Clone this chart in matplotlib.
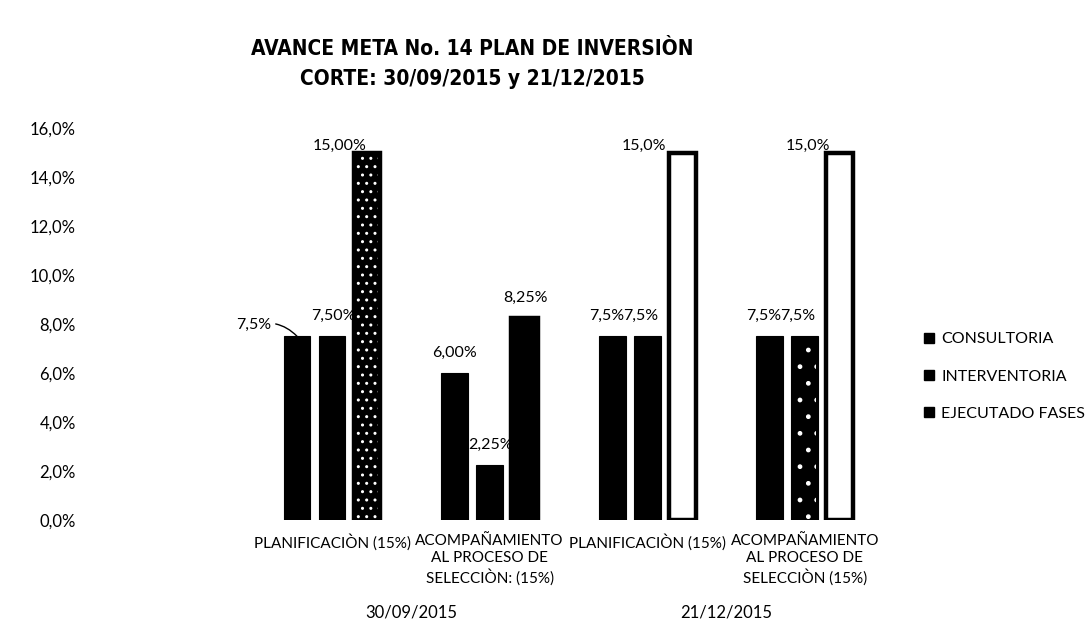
import matplotlib
matplotlib.use("Agg")
import matplotlib.pyplot as plt
from matplotlib import font_manager
from matplotlib.font_manager import FontProperties
from matplotlib.patches import Rectangle
import numpy as np

# ---------------- data ----------------
categories = ["PLANIFICACIÒN (15%)",
              "ACOMPAÑAMIENTO\nAL PROCESO DE\nSELECCIÒN: (15%)",
              "PLANIFICACIÒN (15%)",
              "ACOMPAÑAMIENTO\nAL PROCESO DE\nSELECCIÒN (15%)"]
dates = ["30/09/2015", "21/12/2015"]
series_names = ["CONSULTORIA", "INTERVENTORIA", "EJECUTADO FASES"]
consultoria = [7.5, 6.0, 7.5, 7.5]
interventoria = [7.5, 2.25, 7.5, 7.5]
ejecutado = [15.0, 8.25, 15.0, 15.0]
labels_consultoria = ["7,5%", "6,00%", "7,5%", "7,5%"]
labels_interventoria = ["7,50%", "2,25%", "7,5%", "7,5%"]
labels_ejecutado = ["15,00%", "8,25%", "15,0%", "15,0%"]
yticks = [0, 2, 4, 6, 8, 10, 12, 14, 16]
ytick_labels = ["0,0%", "2,0%", "4,0%", "6,0%", "8,0%", "10,0%", "12,0%", "14,0%", "16,0%"]
title = "AVANCE META No. 14 PLAN DE INVERSIÒN\nCORTE: 30/09/2015 y 21/12/2015"

# ---------------- fonts ----------------
avail = {f.name for f in font_manager.fontManager.ttflist}
body_font = "Lato" if "Lato" in avail else "DejaVu Sans"

title_fp = None
for f in font_manager.fontManager.ttflist:
    fn = f.fname.lower()
    if ("narrow" in fn or "condensed" in fn) and ("bold" in fn) and ("italic" not in fn and "oblique" not in fn):
        if "liberation" in fn:
            title_fp = FontProperties(fname=f.fname, size=18)
            break
        if title_fp is None:
            title_fp = FontProperties(fname=f.fname, size=15)
if title_fp is None:
    title_fp = FontProperties(family="Liberation Sans", weight="bold", size=14.5)

W, H = 1092, 632
fig = plt.figure(figsize=(W / 100, H / 100), dpi=100)
fig.patch.set_facecolor("white")

ax_left_px, ax_right_px = 90, 884
ax_top_px, ax_bot_px = 128, 520
ax = fig.add_axes([ax_left_px / W, 1 - ax_bot_px / H,
                   (ax_right_px - ax_left_px) / W, (ax_bot_px - ax_top_px) / H])

spacing_px = 157.6
x0_px = 332
xl = -(x0_px - ax_left_px) / spacing_px
xr = 3 + (ax_right_px - (x0_px + 3 * spacing_px)) / spacing_px
ax.set_xlim(xl, xr)
ax.set_ylim(0, 16)

x = np.arange(len(categories))
w = 0.171
pitch = 0.222

b1 = ax.bar(x - pitch, consultoria, w, color="black", edgecolor="black", linewidth=0.8)
b2 = ax.bar(x, interventoria, w, color="black", edgecolor="black", linewidth=0.8)
fill3 = ["black", "black", "white", "white"]
b3 = ax.bar(x + pitch, ejecutado, w, color=fill3, edgecolor="black", linewidth=3.2)
# speckled look of scanned bars
ax.bar([x[0] + pitch], [ejecutado[0]], w * 0.8, fill=False, edgecolor="white",
       hatch="..", linewidth=0)
ax.bar([x[3]], [interventoria[3]], w * 0.8, fill=False, edgecolor="white",
       hatch=".", linewidth=0)

PX = 0.72  # points per pixel
lab_kw = dict(fontsize=11.5, family=body_font, color="black", textcoords="offset points")

# consultoria labels
for i, (r, t) in enumerate(zip(b1, labels_consultoria)):
    cx = r.get_x() + r.get_width() / 2
    top = r.get_height()
    if i == 0:
        ax.annotate(t, xy=(cx, top), xytext=(-43 * PX, 11 * PX), ha="center", va="center",
                    arrowprops=dict(arrowstyle="-", color="black", lw=1,
                                    shrinkA=1, shrinkB=0,
                                    connectionstyle="arc3,rad=-0.3"), **lab_kw)
    else:
        dx = 0 if i == 1 else -6
        ax.annotate(t, xy=(cx, top), xytext=(dx * PX, 20 * PX), ha="center", va="center", **lab_kw)
# interventoria labels
for i, (r, t) in enumerate(zip(b2, labels_interventoria)):
    cx = r.get_x() + r.get_width() / 2
    top = r.get_height()
    dx = 1 if i < 2 else -7
    ax.annotate(t, xy=(cx, top), xytext=(dx * PX, 20 * PX), ha="center", va="center", **lab_kw)
# ejecutado labels
right_off = [0, 0, -16, -10]
for i, (r, t) in enumerate(zip(b3, labels_ejecutado)):
    cx = r.get_x() + r.get_width() / 2
    top = r.get_height()
    if top >= 14:
        ax.annotate(t, xy=(cx, top), xytext=(right_off[i] * PX, 7 * PX), ha="right", va="center", **lab_kw)
    else:
        ax.annotate(t, xy=(cx, top), xytext=(1 * PX, 20 * PX), ha="center", va="center", **lab_kw)

# axes styling
for s in ax.spines.values():
    s.set_visible(False)
ax.set_yticks(yticks)
ax.set_yticklabels(ytick_labels, family=body_font, fontsize=12)
ax.tick_params(axis="y", length=0, pad=14 * PX)
ax.set_xticks(x)
ax.set_xticklabels(categories, family=body_font, fontsize=11, linespacing=1.3, va="top")
ax.tick_params(axis="x", length=0, pad=14 * PX)

# date group labels
for k, d in enumerate(dates):
    cx = (x[2 * k] + x[2 * k + 1]) / 2
    ax.annotate(d, xy=(cx, 0), xycoords=("data", "axes fraction"),
                xytext=(0, -93 * PX), textcoords="offset points",
                ha="center", va="center", fontsize=12, family=body_font)

# title
fig.text(472 / W, 1 - 64 / H, title, ha="center", va="center",
         fontproperties=title_fp, linespacing=1.6)

# legend
handles = [Rectangle((0, 0), 1, 1, facecolor="black", edgecolor="black") for _ in series_names]
fig.legend(handles, series_names, loc="upper left", bbox_to_anchor=(910 / W, 1 - 318 / H),
           frameon=False, handlelength=0.6, handleheight=0.6, handletextpad=0.45,
           labelspacing=1.45, prop={"family": body_font, "size": 11.5})

fig.savefig("out.png", dpi=100, facecolor="white")
